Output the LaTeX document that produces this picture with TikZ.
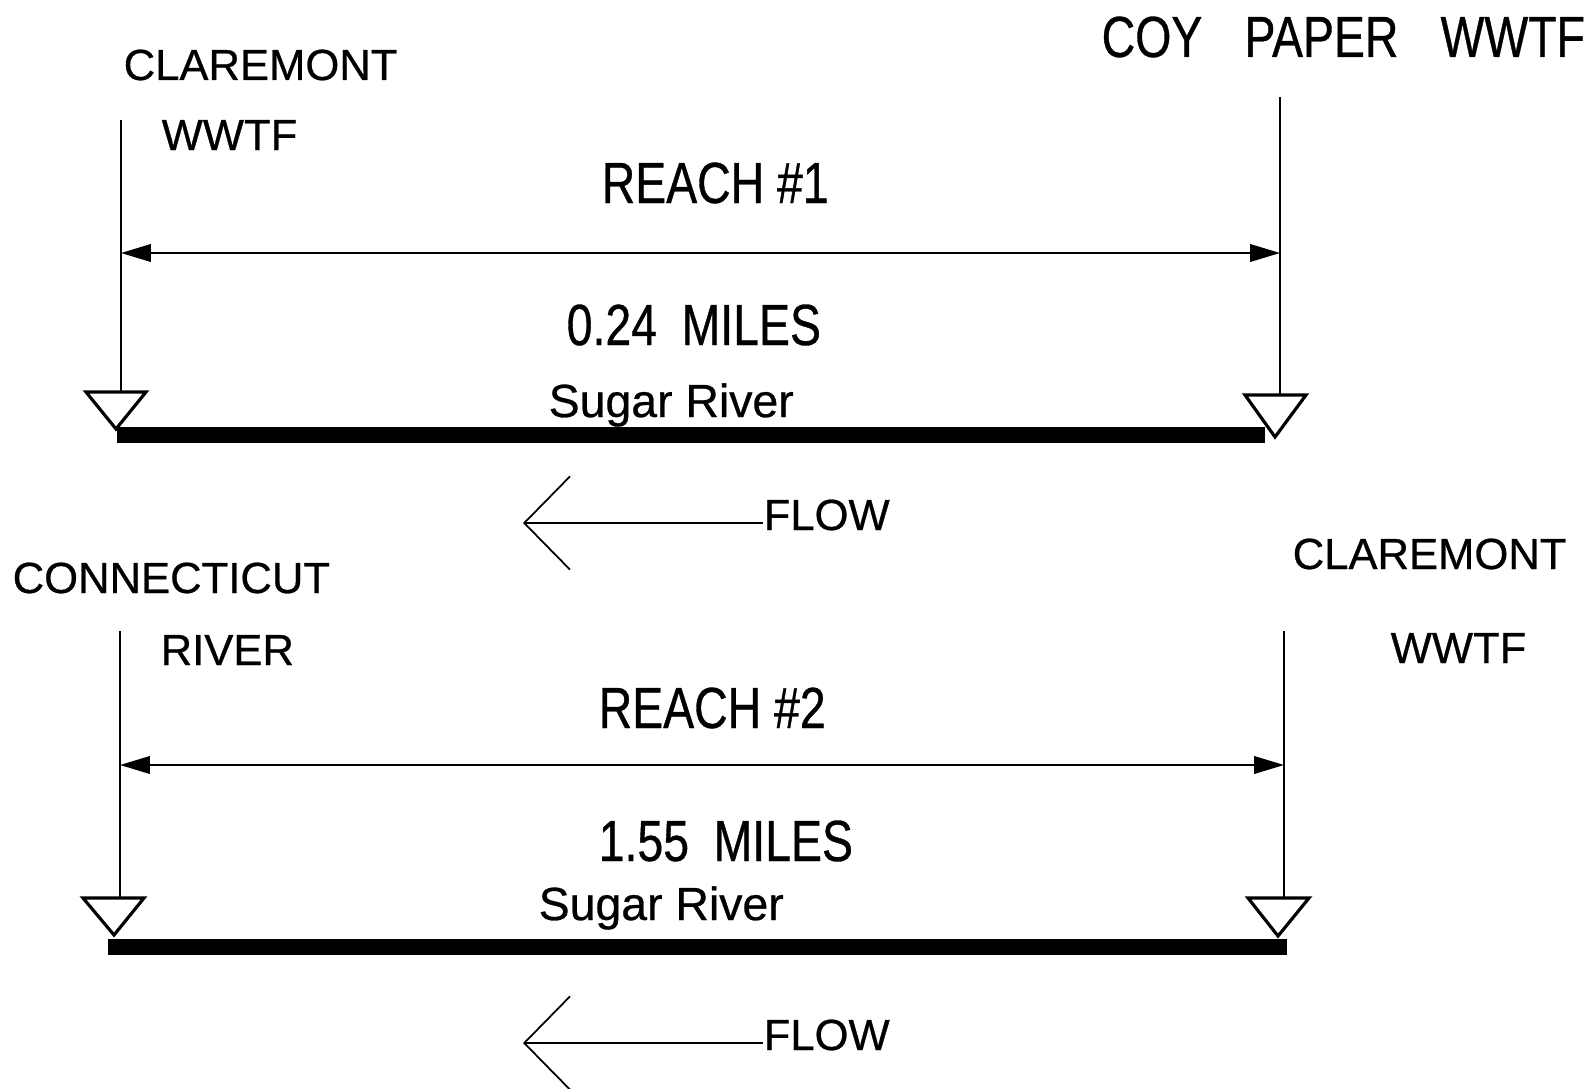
\documentclass[tikz,border=0pt]{standalone}
\usepackage{fontspec}
\setmainfont[FakeBold=0.6]{Liberation Sans}
\newfontfamily\narrowfont[FakeStretch=0.8, FakeBold=0.6]{Liberation Sans}
\usetikzlibrary{arrows.meta, positioning}
\tikzset{
	smalllabel/.style={font=\fontsize{12.4}{14}\selectfont, inner sep=0pt, anchor=base west}
}
\tikzset{
	biglabel/.style={font=\narrowfont\fontsize{16.5}{19}\selectfont, inner sep=0pt, anchor=base west},
	riverlabel/.style={font=\fontsize{13.2}{15}\selectfont, inner sep=0pt, anchor=base west}
}
\tikzset{
	marker/.style={line width=0.6pt},
	dimline/.style={line width=0.5pt, {Triangle[length=8.5pt,width=5pt]}-{Triangle[length=8.5pt,width=5pt]}},
	gauge/.style={line width=0.9pt, line join=miter},
	riverbar/.style={line width=4.3pt},
	flowarrow/.style={line width=0.5pt, -{Straight Barb[length=13pt,width=26.5pt]}}
}

\begin{document}
\begin{tikzpicture}[x=0.01cm, y=-0.01cm]
      \useasboundingbox (0,0) rectangle (1595,1088);
      % reach 1
      \node[smalllabel] (cl1) at (123,80) {CLAREMONT};
      \node[smalllabel] (ww1) at (161,150) {WWTF};
      \node[biglabel] (coy) at (1101,57) {COY\hspace{12pt}PAPER\hspace{12pt}WWTF};
      \node[biglabel] (r1) at (601,203) {REACH \#1};
      \node[biglabel] (m1) at (566,345) {0.24\hspace{7pt}MILES};
      \node[riverlabel] (s1) at (548,417) {Sugar River};
      \coordinate (a1) at (121,120);
      \coordinate (b1) at (121,392);
      \coordinate (a2) at (1280,97);
      \coordinate (b2) at (1280,395);
      \draw[marker] (a1) -- (b1);
      \draw[marker] (a2) -- (b2);
      \draw[dimline] (a1 |- 0,253) -- (a2 |- 0,253);
      \draw[gauge] (86,392) -- (146,392) -- (116,429) -- cycle;
      \draw[gauge] (1245,395) -- (1306,395) -- (1275,437) -- cycle;
      \draw[riverbar] (117,435) -- (1265,435);
      \node[smalllabel] (f1) at (763,530) {FLOW};
      \coordinate (t1) at (523,523);
      \draw[flowarrow] (f1.base west |- t1) -- (t1);
      % reach 2
      \node[smalllabel] (cn2) at (12,593) {CONNECTICUT};
      \node[smalllabel] (rv2) at (160,665) {RIVER};
      \node[smalllabel] (cl2) at (1292,569) {CLAREMONT};
      \node[smalllabel] (ww2) at (1390,663) {WWTF};
      \node[biglabel] (r2) at (598,728) {REACH \#2};
      \node[biglabel] (m2) at (598,861) {1.55\hspace{7pt}MILES};
      \node[riverlabel] (s2) at (538,920) {Sugar River};
      \coordinate (a3) at (120,631);
      \coordinate (b3) at (120,898);
      \coordinate (a4) at (1284,631);
      \coordinate (b4) at (1284,898);
      \draw[marker] (a3) -- (b3);
      \draw[marker] (a4) -- (b4);
      \draw[dimline] (a3 |- 0,765) -- (a4 |- 0,765);
      \draw[gauge] (83,898) -- (144,898) -- (114,935) -- cycle;
      \draw[gauge] (1248,898) -- (1309,898) -- (1278,936) -- cycle;
      \draw[riverbar] (108,947) -- (1287,947);
      \node[smalllabel] (f2) at (763,1050) {FLOW};
      \coordinate (t2) at (523,1043);
      \draw[flowarrow] (f2.base west |- t2) -- (t2);
    \end{tikzpicture}
\end{document}
